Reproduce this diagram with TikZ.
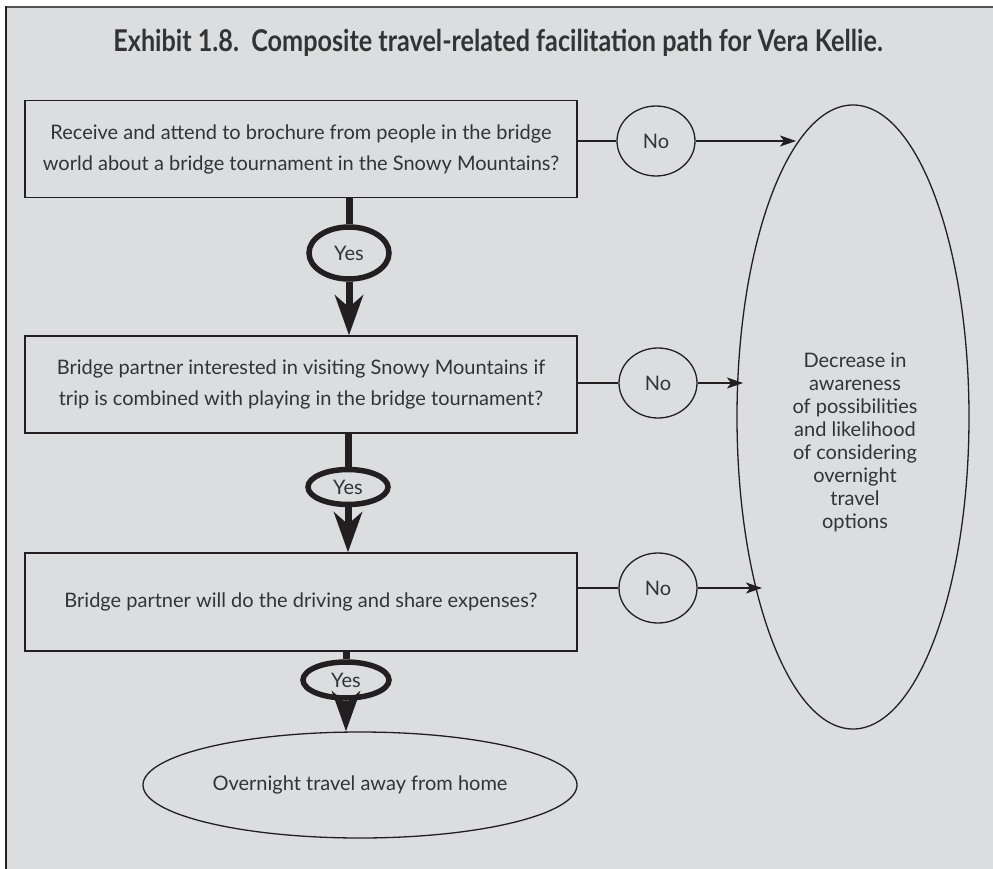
\documentclass[tikz,border=0pt]{standalone}
\usepackage{fontspec}
\setmainfont{Lato}
\newfontfamily\headfont{Lato Bold}
\usetikzlibrary{arrows.meta,shapes.geometric}
\definecolor{panel}{HTML}{DCDDDF}
\definecolor{ink}{HTML}{231F20}
\definecolor{txt}{HTML}{333333}
\definecolor{rimtop}{HTML}{555555}
\begin{document}
\begin{tikzpicture}[x=1pt,y=-1pt,
  every node/.style={text=txt},
  body/.style={font=\fontsize{20}{31}\selectfont},
  qbox/.style={body,draw=ink,line width=1.3pt,minimum width=552pt,align=center,inner sep=0pt},
  noball/.style={body,draw=ink,line width=1.3pt,ellipse,minimum width=78pt,minimum height=70pt,inner sep=0pt},
  yesball/.style={body,draw=ink,line width=5.5pt,ellipse,inner sep=0pt},
  shaft/.style={draw=ink,line width=7pt},
  bigarrow/.style={shaft,-{Stealth[length=40pt,width=28pt,inset=12pt]}},
  thinarrow/.style={draw=ink,line width=1.5pt,-{Stealth[length=16pt,width=11pt,inset=4pt]}},
  thinline/.style={draw=ink,line width=1.5pt}]
\useasboundingbox (0,0) rectangle (993,869);
% page and panel
\fill[white] (0,0) rectangle (993,869);
\fill[panel] (6,7) rectangle (993,869);
\draw[rimtop,line width=2pt] (5,7) -- (993,7);
\draw[ink,line width=2.5pt] (6,6) -- (6,869);

% title
\node[font=\headfont\fontsize{30}{33}\selectfont] (title) at (498,43)
  {\scalebox{0.84}[1]{Exhibit 1.8.\ \ Composite travel-related facilitation path for Vera Kellie.}};

% question boxes
\node[qbox,minimum height=97pt] (b1) at (301,149)
  {Receive and attend to brochure from people in the bridge\\world about a bridge tournament in the Snowy Mountains?};
\node[qbox,minimum height=97pt] (b2) at (301,384.5)
  {Bridge partner interested in visiting Snowy Mountains if\\trip is combined with playing in the bridge tournament?};
\node[qbox,minimum height=98pt] (b3) at (301,602)
  {Bridge partner will do the driving and share expenses?};

% outcome ellipses
\node[draw=ink,line width=1.3pt,ellipse,minimum width=232pt,minimum height=624pt,inner sep=0pt] (dec) at (853,417) {};
\node[align=center,font=\fontsize{20}{23}\selectfont] (dectext) at (855,442)
  {Decrease in\\awareness\\of possibilities\\and likelihood\\of considering\\overnight\\travel\\options};
\node[body,draw=ink,line width=1.3pt,ellipse,minimum width=434pt,minimum height=106pt,inner sep=0pt] (home) at (360,785)
  {Overnight travel away from home};

% No branches
\node[noball] (no1) at (656,141) {No};
\node[noball] (no2) at (658,383) {No};
\node[noball] (no3) at (658,588) {No};
\coordinate (t1) at (796,141);
\coordinate (t2) at (743,383);
\coordinate (t3) at (762,588);
\draw[thinline] (no1.west -| b1.east) -- (no1.west);
\draw[thinline] (no2.west -| b2.east) -- (no2.west);
\draw[thinline] (no3.west -| b3.east) -- (no3.west);
\draw[thinarrow] (no1.east) -- (t1);
\draw[thinarrow] (no2.east) -- (t2);
\draw[thinarrow] (no3.east) -- (t3);

% Yes branches
\node[yesball,minimum width=80pt,minimum height=52pt] (yes1) at (349,253) {Yes};
\node[yesball,minimum width=80pt,minimum height=35pt] (yes2) at (348,487) {Yes};
\node[yesball,minimum width=86pt,minimum height=36pt] (yes3) at (346,680) {Yes};
\draw[shaft] (b1.south -| yes1.north) -- (yes1.north);
\draw[shaft] (b2.south -| yes2.north) -- (yes2.north);
\draw[shaft] (b3.south -| yes3.north) -- (yes3.north);
\draw[bigarrow] (yes1.south) -- (yes1.south |- b2.north);
\draw[bigarrow] (yes2.south) -- (yes2.south |- b3.north);
\draw[bigarrow] (yes3.south) -- (yes3.south |- home.north);
\end{tikzpicture}
\end{document}
